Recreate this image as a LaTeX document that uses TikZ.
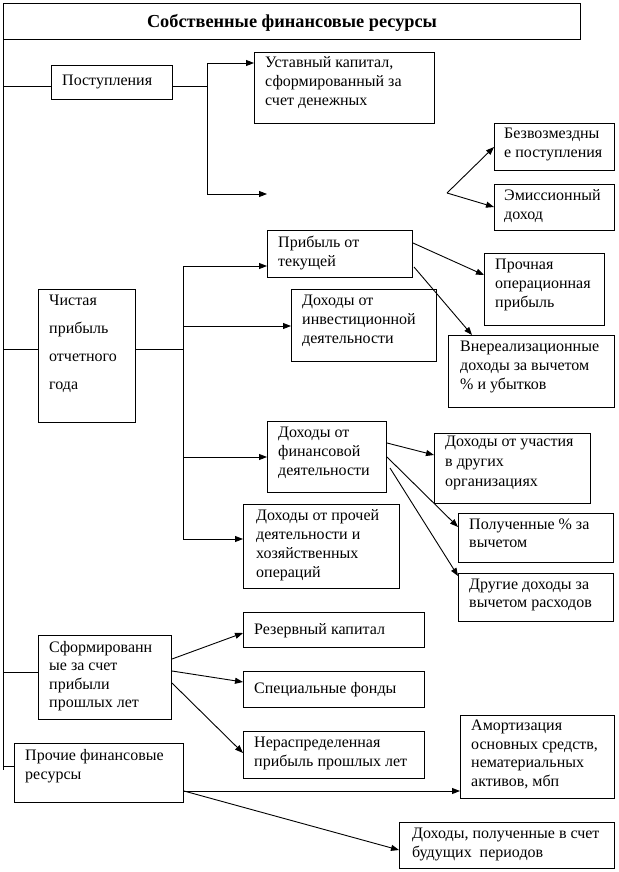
\documentclass[tikz,border=0pt]{standalone}
\usepackage{fontspec}
\setmainfont{Liberation Serif}
\usetikzlibrary{arrows.meta,calc}
\tikzset{
  bxs/.style={draw, line width=1pt, inner sep=0pt, anchor=north west},
  txs/.style={inner sep=0pt, anchor=north west, align=left,
    font=\fontsize{16}{19}\selectfont, execute at begin node={\rule{0pt}{14pt}}},
  ln/.style={line width=1pt},
  arr/.style={line width=0.9pt, -{Triangle[length=8pt,width=6pt]}},
}
\newcommand\bx[7][]{%
  \node[bxs,minimum width=#5pt,minimum height=#6pt] (#2) at (#3,#4) {};
  \node[txs,#1] (#2t) at ([xshift=11pt,yshift=-6pt]#2.north west) {#7};}
\begin{document}
\begin{tikzpicture}[x=1pt,y=-1pt]
\useasboundingbox (0,0) rectangle (618,872);
% title
\node[bxs,minimum width=577pt,minimum height=36pt] (title) at (3,3) {};
\node[font=\fontsize{18.3}{21}\selectfont\bfseries] (titlet) at ([yshift=-1pt]title.center) {Собственные финансовые ресурсы};
% boxes
\bx{post}{51}{65}{121}{34}{Поступления}
\bx[yshift=2pt]{ust}{254}{52}{180}{71}{Уставный капитал,\\сформированный за\\счет денежных}
\bx[xshift=-1pt,yshift=1pt]{bezv}{494}{123}{120}{47}{Безвозмездны\\е поступления}
\bx[xshift=-1pt,yshift=1pt]{emis}{494}{184}{120}{46}{Эмиссионный\\доход}
\bx{prib}{267}{230}{145}{47}{Прибыль от\\текущей}
\bx{prop}{484}{253}{120}{72}{Прочная\\операционная\\прибыль}
\bx[xshift=1pt]{vner}{448}{335}{166}{72}{Внереализационные\\доходы за вычетом\\\% и убытков}
\bx[font=\fontsize{16}{28}\selectfont]{chist}{38}{289}{97}{133}{Чистая\\прибыль\\отчетного\\года}
\bx{inv}{291}{289}{145}{72}{Доходы от\\инвестиционной\\деятельности}
\bx{fin}{267}{421}{119}{71}{Доходы от\\финансовой\\деятельности}
\bx[yshift=3pt,font=\fontsize{16}{20}\selectfont]{uch}{434}{433}{156}{70}{Доходы от участия\\в других\\организациях}
\bx[font=\fontsize{16}{18}\selectfont]{polu}{458}{513}{155}{49}{Полученные \% за\\вычетом}
\bx[font=\fontsize{16}{18}\selectfont]{drug}{458}{573}{155}{48}{Другие доходы за\\вычетом расходов}
\bx[xshift=2pt,yshift=1pt]{pr}{243}{504}{156}{84}{Доходы от прочей\\деятельности и\\хозяйственных\\операций}
\bx[font=\fontsize{16}{18.5}\selectfont]{sform}{38}{635}{133}{84}{Сформированн\\ые за счет\\прибыли\\прошлых лет}
\bx[yshift=-2pt]{rez}{243}{612}{181}{35}{Резервный капитал}
\bx[yshift=-2pt]{spec}{243}{671}{181}{36}{Специальные фонды}
\bx{neras}{243}{731}{181}{47}{Нераспределенная\\прибыль прошлых лет}
\bx{prochie}{14}{743}{169}{59}{Прочие финансовые\\ресурсы}
\bx[yshift=1pt,font=\fontsize{16}{18.5}\selectfont]{amort}{460}{715}{154}{83}{Амортизация\\основных средств,\\нематериальных\\активов, мбп}
\bx[xshift=2pt]{bud}{399}{822}{215}{46}{Доходы, полученные в счет\\будущих\ \ периодов}
% trunk
\coordinate (trunkend) at (3,770);
\draw[ln] (title.south west) -- (trunkend);
% Поступления
\coordinate (J1) at (207,87);
\coordinate (freeA) at (267,194);
\draw[ln] (trunkend |- 0,87) -- (post.west |- 0,87);
\draw[ln] (post.east |- 0,87) -- (J1);
\draw[arr] (J1) |- (ust.west |- 0,63);
\draw[arr] (J1) |- (freeA);
\coordinate (J2) at (447,193);
\draw[arr] (J2) -- (bezv.west |- 0,147);
\draw[arr] (J2) -- (emis.west |- 0,207);
% Чистая прибыль
\coordinate (J3) at (183,349);
\draw[ln] (trunkend |- 0,349) -- (chist.west |- 0,349);
\draw[ln] (chist.east |- 0,349) -- (J3);
\draw[arr] (J3) |- (prib.west |- 0,266);
\draw[arr] (J3) |- (inv.west |- 0,326);
\draw[arr] (J3) |- (fin.west |- 0,457);
\draw[arr] (J3) |- (pr.west |- 0,539);
\draw[arr] (prib.east |- 0,243) -- (prop.west |- 0,275);
\draw[arr] ($(prib.east |- 0,267)+(1,0)$) -- ($(vner.north west)+(24,0)$);
\draw[arr] (fin.east |- 0,443) -- (uch.west |- 0,455);
\draw[arr] (fin.east |- 0,457) -- (polu.west |- 0,527);
\draw[arr] ($(fin.east |- 0,468)+(3,0)$) -- (drug.west |- 0,576);
% Сформированные
\draw[ln] (trunkend |- 0,672) -- (sform.west |- 0,672);
\draw[arr] (sform.east |- 0,659) -- (rez.west |- 0,633);
\draw[arr] (sform.east |- 0,671) -- (spec.west |- 0,682);
\draw[arr] (sform.east |- 0,683) -- (neras.west |- 0,753);
% Прочие
\draw[ln] (trunkend |- 0,766) -- (prochie.west |- 0,766);
\draw[arr] (prochie.east |- 0,791) -- (amort.west |- 0,791);
\draw[arr] (prochie.east |- 0,791) -- (bud.west |- 0,850);
\end{tikzpicture}
\end{document}
